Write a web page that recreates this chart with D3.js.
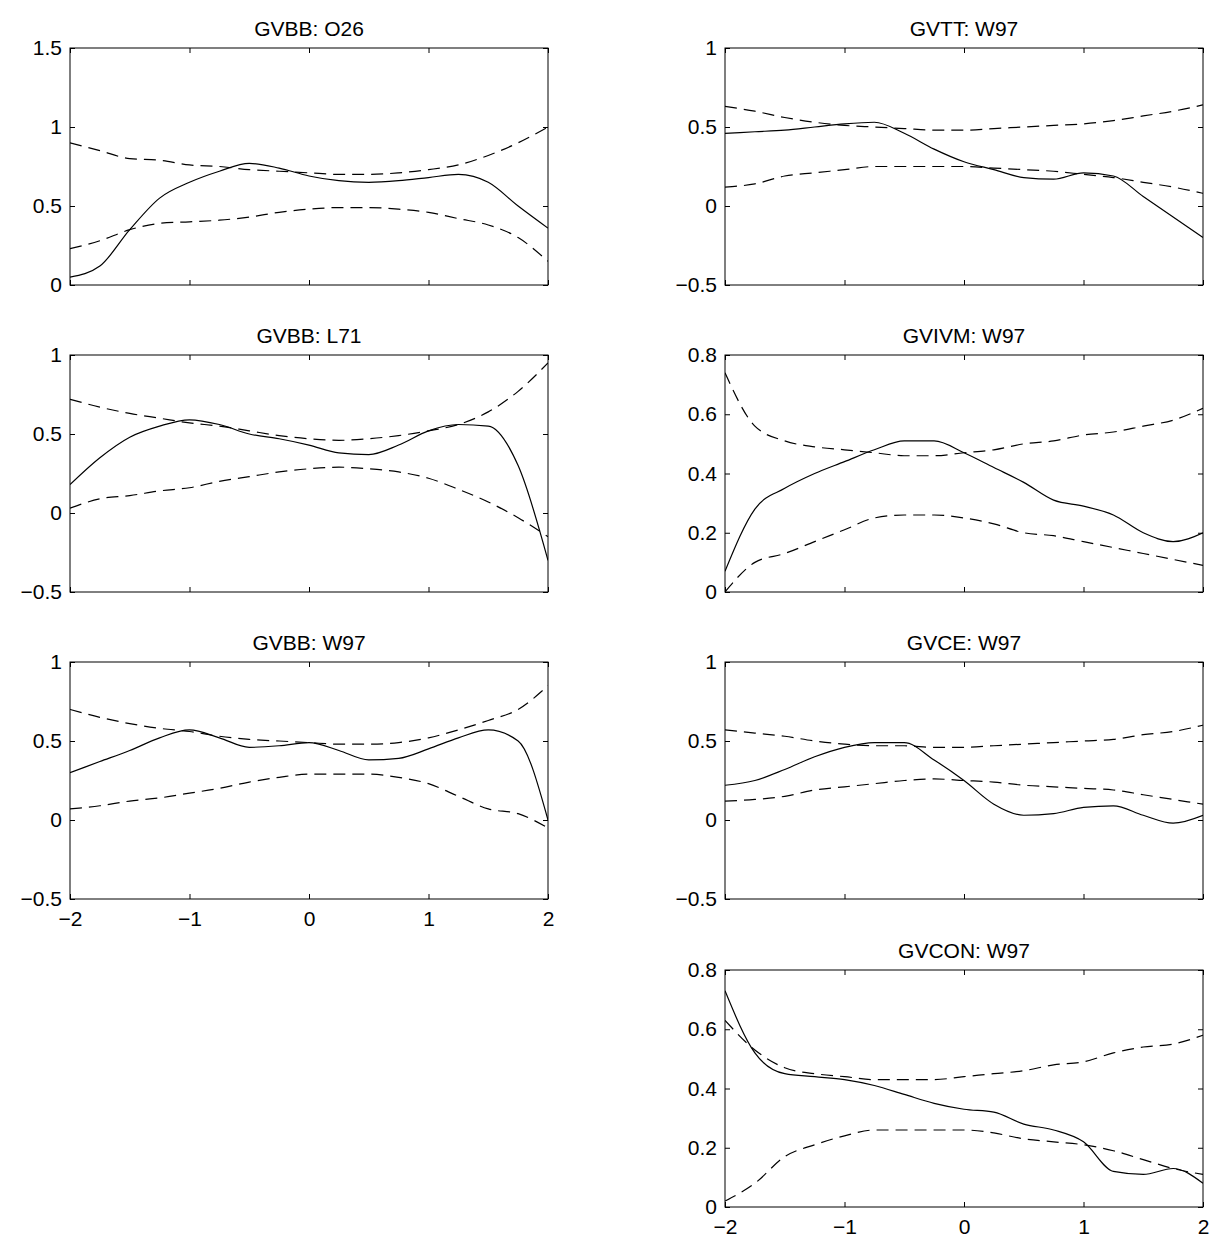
<!DOCTYPE html>
<html><head><meta charset="utf-8">
<script src="https://cdn.jsdelivr.net/npm/d3@7"></script>
<style>body{margin:0;background:#fff}text{font-family:"Liberation Sans",Arial,sans-serif}</style>
</head><body>
<script>
// x grid shared by all panels
var xs = [-2,-1.75,-1.5,-1.25,-1,-0.75,-0.5,-0.25,0,0.25,0.5,0.75,1,1.25,1.5,1.75,2];

var titles = ["GVBB: O26","GVBB: L71","GVBB: W97","GVTT: W97","GVIVM: W97","GVCE: W97","GVCON: W97"];
var yDomains = [[0,1.5],[-0.5,1],[-0.5,1],[-0.5,1],[0,0.8],[-0.5,1],[0,0.8]];
var yTicks = [[0,0.5,1,1.5],[-0.5,0,0.5,1],[-0.5,0,0.5,1],[-0.5,0,0.5,1],[0,0.2,0.4,0.6,0.8],[-0.5,0,0.5,1],[0,0.2,0.4,0.6,0.8]];
var xTicks = [-2,-1,0,1,2];

var solid = [
 [0.05,0.12,0.35,0.55,0.65,0.72,0.77,0.74,0.69,0.66,0.65,0.66,0.68,0.70,0.65,0.50,0.36],
 [0.18,0.35,0.48,0.55,0.59,0.56,0.50,0.47,0.43,0.38,0.37,0.43,0.52,0.56,0.55,0.30,-0.30],
 [0.30,0.37,0.44,0.52,0.57,0.52,0.46,0.47,0.49,0.44,0.38,0.39,0.45,0.52,0.57,0.50,0.00],
 [0.46,0.47,0.48,0.50,0.52,0.53,0.46,0.36,0.28,0.23,0.18,0.17,0.21,0.19,0.06,-0.07,-0.20],
 [0.07,0.28,0.35,0.40,0.44,0.48,0.51,0.51,0.47,0.42,0.37,0.31,0.29,0.26,0.20,0.17,0.20],
 [0.22,0.25,0.32,0.40,0.46,0.49,0.49,0.38,0.25,0.10,0.03,0.04,0.08,0.09,0.03,-0.02,0.03],
 [0.73,0.52,0.45,0.44,0.43,0.41,0.38,0.35,0.33,0.32,0.28,0.26,0.22,0.12,0.11,0.13,0.08]
];
var upper = [
 [0.90,0.85,0.80,0.79,0.76,0.75,0.73,0.72,0.71,0.70,0.70,0.71,0.73,0.76,0.82,0.90,1.00],
 [0.72,0.67,0.63,0.60,0.57,0.55,0.52,0.49,0.47,0.46,0.47,0.49,0.52,0.56,0.64,0.77,0.95],
 [0.70,0.65,0.61,0.58,0.56,0.53,0.51,0.50,0.49,0.48,0.48,0.49,0.52,0.57,0.63,0.70,0.85],
 [0.63,0.60,0.56,0.53,0.51,0.50,0.49,0.48,0.48,0.49,0.50,0.51,0.52,0.54,0.57,0.60,0.64],
 [0.74,0.56,0.51,0.49,0.48,0.47,0.46,0.46,0.47,0.48,0.50,0.51,0.53,0.54,0.56,0.58,0.62],
 [0.57,0.55,0.53,0.50,0.48,0.47,0.47,0.46,0.46,0.47,0.48,0.49,0.50,0.51,0.54,0.56,0.60],
 [0.63,0.53,0.47,0.45,0.44,0.43,0.43,0.43,0.44,0.45,0.46,0.48,0.49,0.52,0.54,0.55,0.58]
];
var lower = [
 [0.23,0.28,0.35,0.39,0.40,0.41,0.43,0.46,0.48,0.49,0.49,0.48,0.46,0.42,0.38,0.30,0.15],
 [0.03,0.09,0.11,0.14,0.16,0.20,0.23,0.26,0.28,0.29,0.28,0.26,0.22,0.15,0.07,-0.03,-0.15],
 [0.07,0.09,0.12,0.14,0.17,0.20,0.24,0.27,0.29,0.29,0.29,0.27,0.23,0.15,0.07,0.04,-0.05],
 [0.12,0.14,0.19,0.21,0.23,0.25,0.25,0.25,0.25,0.24,0.23,0.22,0.20,0.18,0.15,0.12,0.08],
 [0.00,0.10,0.13,0.17,0.21,0.25,0.26,0.26,0.25,0.23,0.20,0.19,0.17,0.15,0.13,0.11,0.09],
 [0.12,0.13,0.15,0.19,0.21,0.23,0.25,0.26,0.25,0.24,0.22,0.21,0.20,0.19,0.16,0.13,0.10],
 [0.02,0.08,0.17,0.21,0.24,0.26,0.26,0.26,0.26,0.25,0.23,0.22,0.21,0.19,0.16,0.13,0.11]
];

// panel frames: [left, top, showXLabels]
var frames = [[70,48,false],[70,355,false],[70,662,true],[725,48,false],[725,355,false],[725,662,false],[725,970,true]];
var pw = 478, ph = 237;

var svg = d3.select("body").append("svg").attr("width",1218).attr("height",1243);
var fmt = function(v){ return String(v).replace("-","\u2212"); };

frames.forEach(function(f, i){
  var g = svg.append("g").attr("transform","translate("+f[0]+","+f[1]+")");
  var x = d3.scaleLinear().domain([-2,2]).range([0,pw]);
  var y = d3.scaleLinear().domain(yDomains[i]).range([ph,0]);

  g.append("rect").attr("width",pw).attr("height",ph).attr("fill","none").attr("stroke","#000").attr("stroke-width",1);

  var ax = d3.axisBottom(x).tickValues(xTicks).tickSize(-5).tickPadding(12).tickFormat(f[2]?fmt:"");
  var gx = g.append("g").attr("transform","translate(0,"+ph+")").call(ax);
  var ax2 = d3.axisTop(x).tickValues(xTicks).tickSize(-5).tickFormat("");
  var gx2 = g.append("g").call(ax2);
  var ay = d3.axisLeft(y).tickValues(yTicks[i]).tickSize(-5).tickPadding(8).tickFormat(fmt);
  var gy = g.append("g").call(ay);
  var ay2 = d3.axisRight(y).tickValues(yTicks[i]).tickSize(-5).tickFormat("");
  var gy2 = g.append("g").attr("transform","translate("+pw+",0)").call(ay2);
  [gx,gx2,gy,gy2].forEach(function(a){
    a.select(".domain").remove();
    a.selectAll("text").attr("font-size",21).attr("fill","#000").style("font-family","Liberation Sans, Arial, sans-serif");
  });

  g.append("text").attr("x",pw/2).attr("y",-12).attr("text-anchor","middle").attr("font-size",21).text(titles[i]);

  var line = d3.line().x(function(d,j){return x(xs[j]);}).y(function(d){return y(d);}).curve(d3.curveMonotoneX);
  var clip = "clip"+i;
  g.append("clipPath").attr("id",clip).append("rect").attr("width",pw).attr("height",ph);
  var lg = g.append("g").attr("clip-path","url(#"+clip+")");
  lg.append("path").attr("d",line(solid[i])).attr("fill","none").attr("stroke","#000").attr("stroke-width",1.2);
  [upper[i],lower[i]].forEach(function(s){
    lg.append("path").attr("d",line(s)).attr("fill","none").attr("stroke","#000").attr("stroke-width",1.2).attr("stroke-dasharray","12,7");
  });
});
</script>
</body></html>
